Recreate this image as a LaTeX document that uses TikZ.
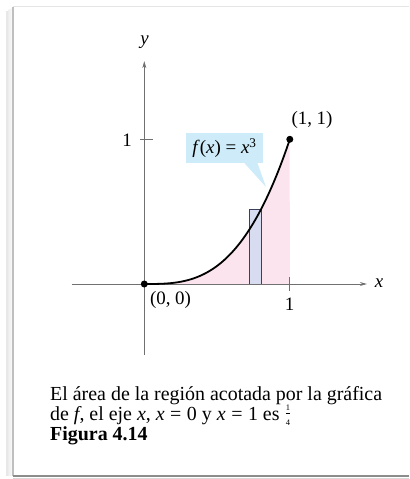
\documentclass[tikz,border=0pt]{standalone}
\usepackage{fontspec}
\setmainfont{Liberation Serif}
\usetikzlibrary{arrows.meta}
\definecolor{axisgray}{HTML}{707070}
\definecolor{areapink}{HTML}{FCE4EE}
\definecolor{rectfill}{HTML}{D8DCF0}
\definecolor{rectdraw}{HTML}{3A3F5C}
\definecolor{calloutblue}{HTML}{CDEBF8}
\newcommand{\smallfracnum}[1]{\mbox{\fontsize{8.5}{8.5}\selectfont #1}}
\tikzset{
  axisline/.style={draw=axisgray, line width=0.8bp, -{Stealth[length=7bp,width=4bp]}},
  tickline/.style={draw=axisgray, line width=0.8bp},
  lbl/.style={inner sep=0pt, font=\fontsize{19}{20}\selectfont},
  captxt/.style={inner sep=0pt, anchor=base west, font=\fontsize{20}{20}\selectfont},
  dotpt/.style={circle, fill=black, inner sep=0pt, minimum size=7bp},
}
\begin{document}
\begin{tikzpicture}[x=1bp,y=-1bp]
\useasboundingbox (0,0) rectangle (409,479);
% frame with shadow
\foreach \i/\o in {1/0.03,2/0.05,3/0.07,4/0.09} {
  \draw[black, opacity=\o, line width=1.2bp] (13-\i*1.5,7+\i) -- (13-\i*1.5,476);
}
\draw[black!25, line width=1.3bp] (13,7) -- (13,476);
\draw[black!10, line width=1bp] (13,7) -- (409,7);
\draw[black!45, line width=1.3bp] (13,476) -- (409,476);
\draw[black!15, line width=1bp] (13,478) -- (409,478);

\begin{scope}[shift={(144.3,284)}, x=145.5bp, y=144.7bp]
  \fill[areapink] (0,0) -- plot[domain=0:1, samples=60] (\x,{\x*\x*\x}) -- (1,0) -- cycle;
  \draw[draw=rectdraw, fill=rectfill, line width=0.9bp] (0.725,0) rectangle (0.803,0.518);
  \coordinate (xs) at (-0.5,0);
  \coordinate (xe) at (1.53,0);
  \coordinate (ys) at (0,-0.49);
  \coordinate (ye) at (0,1.54);
  \draw[axisline] (xs) -- (xe);
  \draw[axisline] (ys) -- (ye);
  \draw[tickline] (1,-0.045) -- (1,0.05);
  \draw[tickline] (-0.03,1) -- (0.06,1);
  \draw[black, line width=1.8bp] plot[domain=0:1, samples=80] (\x,{\x*\x*\x});
  \node[dotpt] (p0) at (0,0) {};
  \node[dotpt] (p1) at (1,1) {};
\end{scope}

\node[lbl] (ylab) at (144.5,42) {\textit{y}};
\node[lbl] (xlab) at (379,283) {\textit{x}};
\node[lbl] (l11) at (312,120) {(1, 1)};
\node[lbl] (l00) at (170.5,300) {(0, 0)};
\node[lbl] (lx1) at (289.5,304) {1};
\node[lbl] (ly1) at (127,140) {1};

% callout
\coordinate (tip) at (266,187);
\node[fill=calloutblue, minimum width=77bp, minimum height=30bp, inner sep=0pt,
      font=\fontsize{19}{20}\selectfont] (fx) at (224.5,148) {\textit{f}(\textit{x}) = \textit{x}\textsuperscript{3}};
\fill[calloutblue] ([xshift=20bp]fx.south) -- (tip) -- ([xshift=33bp]fx.south) -- cycle;

% caption
\node[captxt] (cap1) at (50,400) {El área de la región acotada por la gráfica};
\node[captxt] (cap2) at (50,420) {de \textit{f}, el eje \textit{x}, \textit{x}\;=\;0 y \textit{x}\;=\;1 es \raisebox{1.5bp}{$\frac{\smallfracnum{1}}{\smallfracnum{4}}$}};
\node[captxt] (cap3) at (50,440) {\textbf{Figura 4.14}};
\end{tikzpicture}
\end{document}
